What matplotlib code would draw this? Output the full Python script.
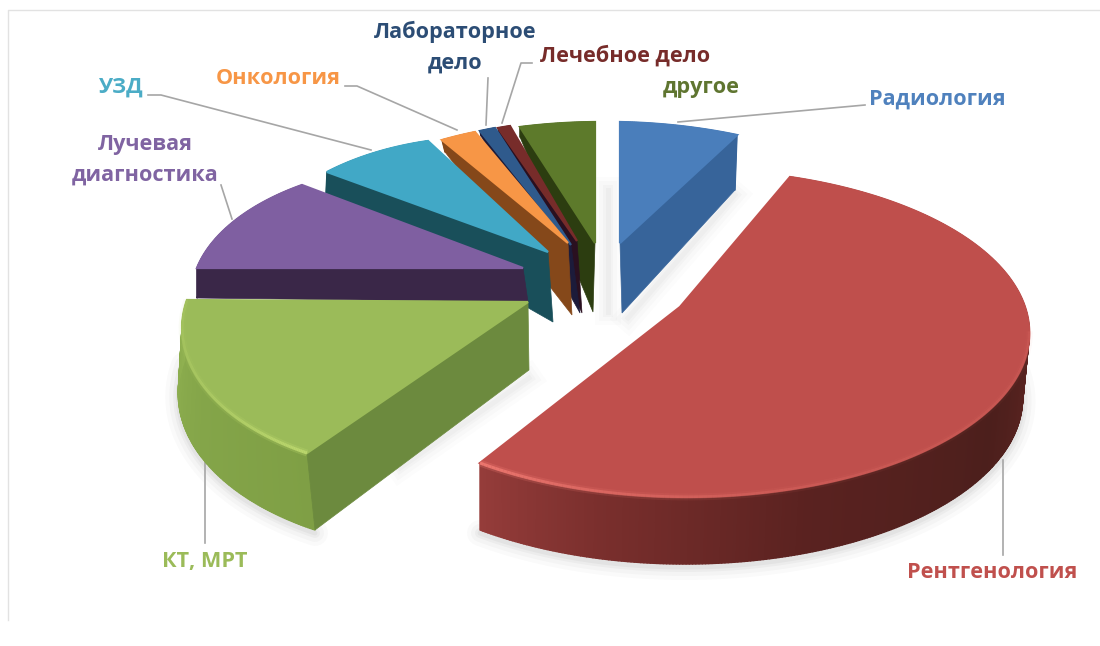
import numpy as np
import matplotlib
matplotlib.use("Agg")
import matplotlib.pyplot as plt
from matplotlib.path import Path
from matplotlib.collections import PolyCollection
from matplotlib.colors import to_rgb

# ---------- data ----------
labels = ["Радиология", "Рентгенология", "КТ, МРТ", "Лучевая\nдиагностика", "УЗД",
          "Онкология", "Лабораторное\nдело", "Лечебное дело", "другое"]
values = [8, 50, 17, 9, 6.5, 2, 1, 1, 5.5]

# ---------- styles ----------
top_colors = ["#4a7ebb", "#bf4f4c", "#9bbb59", "#7f5fa1", "#41a8c6", "#f79646", "#2f5a8c", "#772c2a", "#5d7a2b"]
face_colors = ["#37649a", None, "#6c8a3e", "#3a2748", "#194f5a", "#85481a", "#1c1b3a", "#2a1020", "#2c3d10"]
side_colors = [
    ["#37649a", "#37649a"],
    [(0, "#5c2421"), (.36, "#5c2421"), (.5, "#4c1f1c"), (.71, "#5a2220"), (.887, "#7a2f2d"), (1, "#953c3a")],
    [(0, "#7f9f45"), (.5, "#84a549"), (1, "#8fb050")],
    ["#3a2748", "#3a2748"], ["#194f5a", "#194f5a"], ["#85481a", "#85481a"],
    ["#1c1b3a", "#1c1b3a"], ["#2a1020", "#2a1020"], ["#2c3d10", "#2c3d10"],
]
label_colors = ["#4f81bd", "#c0504d", "#9bbb59", "#8064a2", "#4bacc6", "#f79646", "#2c4d75", "#772c2a", "#5f7530"]
label_pos = [(937, 99), (992, 572), (205, 562), (145, 160), (121, 87), (278, 78), (455, 47), (625, 56), (701, 87)]
leaders = [
    [(865, 105), (678, 122)], [(1003, 460), (1003, 555)], [(205, 460), (205, 543)],
    [(221, 185), (232, 219)], [(148, 95), (161, 95), (371, 150)], [(345, 86), (357, 86), (457, 130)],
    [(488, 78), (486, 125)], [(532, 63), (521, 63), (502, 123)], [],
]

# projected geometry of each exploded slice: apex, arc start, arc end, ellipse centre, rx, ry
top_geo = [
    ((620, 243), (620, 122), (737, 135), (640, 250), 300, 127),
    ((680, 307), (790, 177), (480, 463), (690, 337), 337, 161),
    ((528, 302), (307, 453), (187, 300), (440, 330), 260, 150),
    ((523, 268), (197, 268), (302, 185), (430, 300), 240, 125),
    ((548, 252), (327, 172), (428, 141), (480, 280), 250, 145),
    ((568, 243), (442, 140), (475, 132), (560, 260), 300, 137),
    ((571, 245), (480, 131), (495, 128), (560, 260), 300, 137),
    ((577, 241), (498, 128), (510, 126), (560, 260), 300, 137),
    ((595, 243), (520, 127), (595, 122), (560, 260), 300, 137),
]
bot_geo = [
    ((622, 313), (620, 190), (735, 190), (640, 305), 300, 127),
    ((680, 370), (790, 240), (480, 530), (680, 400), 340, 167),
    ((529, 370), (315, 530), (184, 362), (442, 400), 255, 150),
    ((528, 302), (197, 298), (302, 215), (430, 330), 240, 125),
    ((553, 322), (326, 193), (428, 170), (480, 310), 250, 145),
    ((572, 315), (445, 152), (475, 150), (560, 300), 300, 137),
    ((580, 313), (481, 136), (495, 136), (560, 300), 300, 137),
    ((582, 313), (499, 133), (510, 134), (560, 300), 300, 137),
    ((593, 312), (520, 137), (595, 135), (560, 300), 300, 137),
]
face_at_end = [True, None, False, False, False, False, False, False, False]
draw_order = [8, 7, 6, 5, 4, 3, 2, 0, 1]


def arc_points(geo, t):
    _, p1, p2, c, rx, ry = geo
    phi = lambda p: np.arctan2((c[1] - p[1]) / ry, (p[0] - c[0]) / rx)
    a1, a2 = phi(p1), phi(p2)
    if a2 > a1:
        a2 -= 2 * np.pi
    a = a1 + t * (a2 - a1)
    e = np.column_stack([c[0] + rx * np.cos(a), c[1] - ry * np.sin(a)])
    e1 = np.array([c[0] + rx * np.cos(a1), c[1] - ry * np.sin(a1)])
    e2 = np.array([c[0] + rx * np.cos(a2), c[1] - ry * np.sin(a2)])
    tt = t[:, None]
    return e + (1 - tt) * (np.array(p1) - e1) + tt * (np.array(p2) - e2)


def gradient(stops, t):
    if not isinstance(stops[0], tuple):
        stops = [(0, stops[0]), (1, stops[1])]
    xs = [s[0] for s in stops]
    cs = np.array([to_rgb(s[1]) for s in stops])
    return np.column_stack([np.interp(t, xs, cs[:, k]) for k in range(3)])


fig = plt.figure(figsize=(11, 6.46), dpi=100)
ax = fig.add_axes([0, 0, 1, 1])
wedges, _ = ax.pie(values, startangle=90, counterclock=False, colors=top_colors,
                   wedgeprops={"linewidth": 0})
ax.set_aspect("auto")
ax.set_xlim(0, 1100)
ax.set_ylim(646, 0)
ax.axis("off")

# chart frame
ax.plot([8, 8, 1100], [620, 10, 10], color="#e2e2e2", lw=1.0, zorder=1)

# soft shadows
for lw, al in [(26, .018), (18, .025), (10, .03), (5, .035)]:
    for i in (1, 2):
        t = np.linspace(0, 1, 200)
        b = arc_points(bot_geo[i], t)
        b = b[b[:, 1] > 330] + np.array([0, 3])
        ax.plot(b[:, 0], b[:, 1], color="k", alpha=al, lw=lw * .72, zorder=2, solid_capstyle="round")
    ax.plot([608, 608], [190, 312], color="k", alpha=al * .7, lw=lw * .72, zorder=2)
    ax.plot([735, 628], [195, 318], color="k", alpha=al * .6, lw=lw * .72, zorder=2)
    ax.plot([529, 400], [378, 468], color="k", alpha=al * .6, lw=lw * .72, zorder=2)

# leader lines
for pts in leaders:
    if pts:
        xy = np.array(pts)
        ax.plot(xy[:, 0], xy[:, 1], color="#a6a6a6", lw=1.2, zorder=3)

# slices
for rank, i in enumerate(draw_order):
    z = 10 + 3 * rank
    w = wedges[i]
    n = int(max(abs(w.theta2 - w.theta1) * 2, 6)) + 2
    t = np.linspace(0, 1, n)
    top = arc_points(top_geo[i], t)
    bot = arc_points(bot_geo[i], t)

    # outer rim
    quads = [[top[k], top[k + 1], bot[k + 1], bot[k]] for k in range(n - 1)]
    cols = gradient(side_colors[i], (t[:-1] + t[1:]) / 2)
    ax.add_collection(PolyCollection(quads, facecolors=cols, edgecolors=cols, linewidths=1.0, zorder=z))

    # visible cut face
    if face_colors[i] is not None:
        k = -1 if face_at_end[i] else 0
        ax.fill([top_geo[i][0][0], top[k, 0], bot[k, 0], bot_geo[i][0][0]],
                [top_geo[i][0][1], top[k, 1], bot[k, 1], bot_geo[i][0][1]],
                color=face_colors[i], lw=.5, zorder=z + 1)

    # top face: the pie wedge, re-projected; the own-colour edge hides the rim behind the back arc
    poly = np.vstack([top_geo[i][0], top, top_geo[i][0]])
    w._path = Path(poly, closed=True)
    w.set_transform(ax.transData)
    w.set_edgecolor(top_colors[i])
    w.set_linewidth(1.6)
    w.set_zorder(z + 2)

    # bevel highlight on the front rims
    if i in (1, 2):
        tb = np.linspace(.36 if i == 1 else 0, 1, 160)
        rim = arc_points(top_geo[i], tb)
        hl = "#f07a72" if i == 1 else "#bcd86e"
        for k in range(len(tb) - 1):
            u = tb[k] if i == 2 else 1 - (1 - tb[k]) / .64
            a = (.15 + .75 * u ** 4) if i == 1 else .75 * (1 - tb[k]) ** 2 + .2
            seg = rim[k:k + 2]
            ax.plot(seg[:, 0], seg[:, 1], color=hl, alpha=a * .3, lw=5.0, zorder=z + 2.4,
                    solid_capstyle="butt")
            ax.plot(seg[:, 0], seg[:, 1], color=hl, alpha=a, lw=2.2, zorder=z + 2.5,
                    solid_capstyle="butt")

# labels
for txt, c, (x, y) in zip(labels, label_colors, label_pos):
    ax.text(x, y, txt, color=c, ha="center", va="center", family="Open Sans", weight="bold",
            fontsize=15.6, linespacing=1.6, zorder=60)

fig.savefig("out.png", dpi=100)
